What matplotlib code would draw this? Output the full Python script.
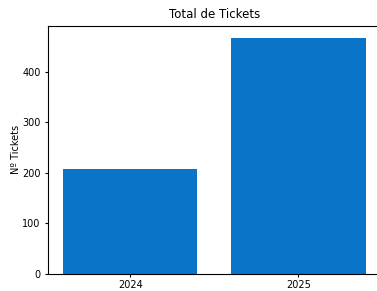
import matplotlib
matplotlib.use('Agg')
import matplotlib.pyplot as plt

# Datos
years = ['2024', '2025']
tickets = [208, 468]

fig = plt.figure(figsize=(3.77, 2.91), dpi=100)
ax = fig.add_axes([0.1265, 0.06, 0.884, 0.851])

ax.bar(years, tickets, color='#0a74c8', width=0.8)
ax.set_title('Total de Tickets', fontsize=8.5, pad=6)
ax.set_ylabel('Nº Tickets', fontsize=7, labelpad=1)
ax.tick_params(labelsize=7, length=2.5, pad=2.5)
ax.set_yticks([0, 100, 200, 300, 400])

fig.savefig('out.png', dpi=100)
